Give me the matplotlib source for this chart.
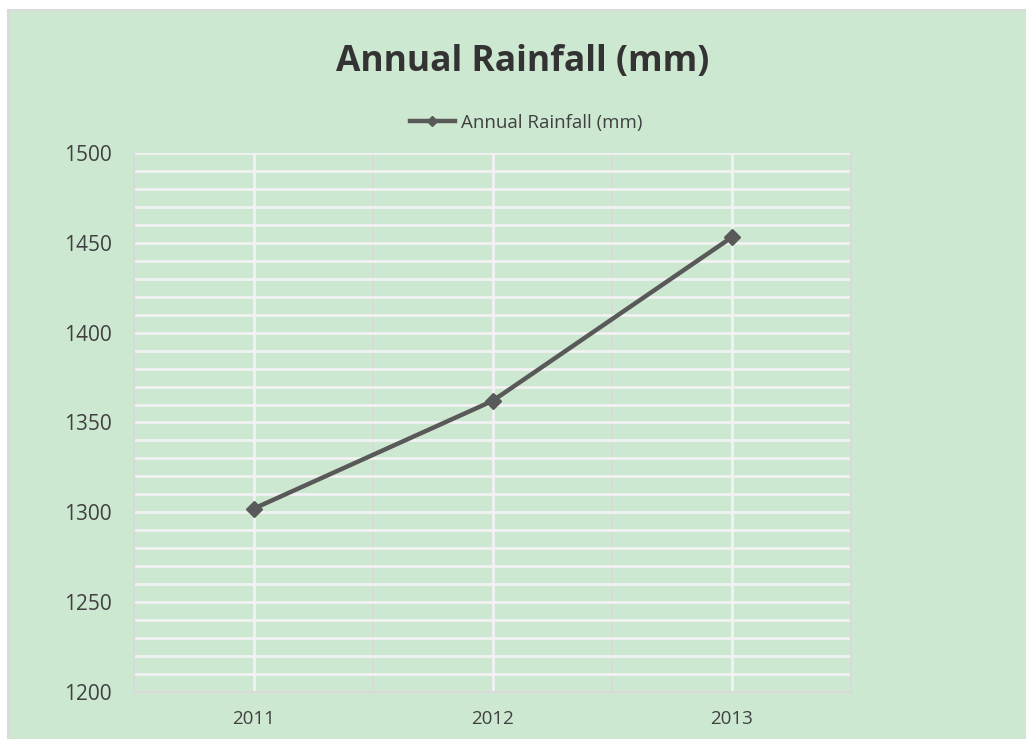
#!/usr/bin/env python3
import matplotlib
matplotlib.use('Agg')
import matplotlib.pyplot as plt
from matplotlib.patches import Rectangle
from matplotlib.ticker import MultipleLocator, FixedLocator

years = ['2011', '2012', '2013']
rainfall_mm = [1302, 1362, 1453]
series_name = 'Annual Rainfall (mm)'
chart_title = 'Annual Rainfall (mm)'

BG = '#cde8d0'
LINE = '#595959'
TEXT = '#404040'
GRID = '#f2f2f2'
BORDER = '#d9d9d9'

plt.rcParams['font.family'] = ['Open Sans', 'DejaVu Sans']

fig = plt.figure(figsize=(10.26, 7.39), dpi=100)
fig.patch.set_facecolor('white')

# chart area panel with thin gray border, kept behind the axes
panel = Rectangle((8 / 1026, -0.01), 1.02, 1 - 10 / 739 + 0.01, transform=fig.transFigure,
                  facecolor=BG, edgecolor=BORDER, linewidth=1.5, zorder=-10)
fig.add_artist(panel)

ax = fig.add_axes([134 / 1026, 1 - 692 / 739, (851 - 134) / 1026, (692 - 153) / 739])
ax.set_facecolor(BG)

x = list(range(len(years)))
ax.plot(x, rainfall_mm, color=LINE, linewidth=3.2, marker='D', markersize=8,
        label=series_name, zorder=3)

ax.set_xlim(-0.5, len(years) - 0.5)
ax.set_ylim(1200, 1500)
ax.xaxis.set_major_locator(FixedLocator(x))
ax.set_xticklabels(years)
ax.xaxis.set_minor_locator(FixedLocator([i + 0.5 for i in x[:-1]]))
ax.yaxis.set_major_locator(MultipleLocator(50))
ax.yaxis.set_minor_locator(MultipleLocator(10))

ax.grid(True, which='major', axis='x', color=GRID, linewidth=2)
ax.grid(True, which='minor', axis='x', color=BORDER, linewidth=1.5)
ax.grid(True, which='both', axis='y', color=GRID, linewidth=2)
ax.set_axisbelow(True)

ax.spines['top'].set_visible(False)
for side in ['left', 'right', 'bottom']:
    ax.spines[side].set_color(BORDER)
    ax.spines[side].set_linewidth(1.5)

ax.tick_params(axis='both', which='both', length=0)
ax.tick_params(axis='y', labelsize=15, labelcolor=TEXT, pad=16)
ax.tick_params(axis='x', labelsize=13.5, labelcolor=TEXT, pad=13)

fig.text(523 / 1026, 1 - 62 / 739, chart_title, ha='center', va='center',
         fontsize=25.5, fontweight='bold', color='#333333')

leg = ax.legend(loc='center', bbox_to_anchor=(526 / 1026, 1 - 123 / 739),
                bbox_transform=fig.transFigure, frameon=False, fontsize=13.5,
                handlelength=2.4, handletextpad=0.3, markerscale=0.7)
for t in leg.get_texts():
    t.set_color(TEXT)

fig.savefig('out.png', dpi=100, facecolor=fig.get_facecolor())
